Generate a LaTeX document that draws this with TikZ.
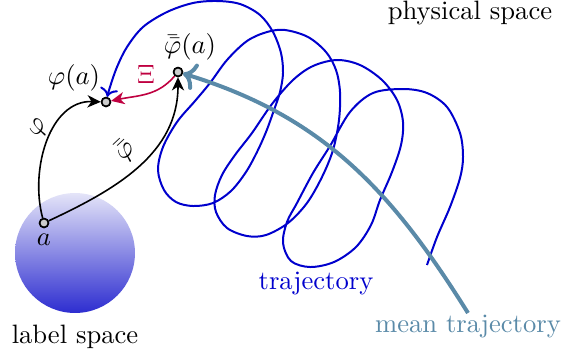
\documentclass[tikz,border=0pt]{standalone}
\usetikzlibrary{arrows.meta}
\definecolor{trajblue}{RGB}{0,0,205}
\definecolor{meanblue}{RGB}{90,138,168}
\definecolor{xired}{RGB}{191,0,64}
\definecolor{disktop}{RGB}{228,228,248}
\definecolor{diskbot}{RGB}{45,45,208}
\tikzset{
  pt/.style={circle, draw=black, fill=gray!40, line width=0.6pt, inner sep=0pt, minimum size=3.3pt},
  maparrow/.style={line width=0.6pt, -{Stealth[length=5pt,width=4.6pt,inset=1.5pt]}},
  traj/.style={trajblue, line width=0.75pt},
  meantraj/.style={meanblue, line width=1.5pt},
  disk/.style={circle, inner sep=0pt, minimum size=45.1pt, top color=disktop, bottom color=diskbot},
}
\begin{document}
\begin{tikzpicture}[x=0.376pt,y=-0.376pt]
\useasboundingbox (0,0) rectangle (561,360);
% label space disk
\node[disk] (labeldisk) at (75,253) {};
% points
\node[pt] (a) at (44,223) {};
\node[pt] (phia) at (106,102) {};
\node[pt] (phibb) at (178,72) {};
% trajectory
\draw[traj, <-, shorten <=2pt] plot[smooth, tension=0.55] coordinates {
  (phia) (110,87) (117,67) (127,47) (143,27) (167,12) (193,3) (217,1) (240,4)
  (260,15) (273,32) (281,53) (283,73) (280,92) (274,110) (266,132) (257,152)
  (246,172) (231,191) (213,203) (193,206) (176,202) (164,190) (158,170)
  (163,147) (177,122) (195,101) (210,83) (227,60) (247,41) (267,32) (285,30)
  (308,37) (326,52) (336,70) (340,92) (339,120) (333,150) (322,177) (307,203)
  (288,223) (266,235) (247,236) (227,228) (216,212) (215,195) (222,175)
  (235,155) (252,133) (272,104) (293,80) (313,66) (337,60) (360,65) (382,80)
  (397,100) (403,122) (401,145) (392,172) (380,200) (371,225) (356,247)
  (334,262) (310,267) (291,261) (283,243) (287,222) (297,203) (313,173)
  (330,146) (350,112) (373,93) (403,89) (427,93) (447,107) (460,133)
  (463,157) (460,178) (450,207) (437,237) (427,265)};
% mean trajectory
\coordinate (mts) at (468,313);
\draw[meantraj, ->] (mts) to[out=122,in=-17] (phibb);
% maps
\draw[maparrow] (a) to[out=105,in=178] node[pos=0.55, sloped, above, inner sep=1.5pt] {$\varphi$} (phia);
\draw[maparrow] (a) to[out=25,in=-90] node[pos=0.5, sloped, above, inner sep=3pt] {$\bar{\bar{\varphi}}$} (phibb);
\draw[maparrow, xired] (phibb) to[out=230,in=12] (phia);
% redraw points on top
\node[pt] at (a) {};
\node[pt] at (phia) {};
\node[pt] at (phibb) {};
% labels
\node[text=xired] (xilabel) at (146,74) {$\Xi$};
\node (alabel) at (44,240) {$a$};
\node (phialabel) at (74,78) {$\varphi(a)$};
\node (phibblabel) at (190,47) {$\bar{\bar{\varphi}}(a)$};
\node[text=trajblue] (trajlabel) at (316,283) {trajectory};
\node[text=meanblue] (meanlabel) at (468,326) {mean trajectory};
\node (lslabel) at (75,337) {label space};
\node (pslabel) at (470,13) {physical space};
\end{tikzpicture}
\end{document}
